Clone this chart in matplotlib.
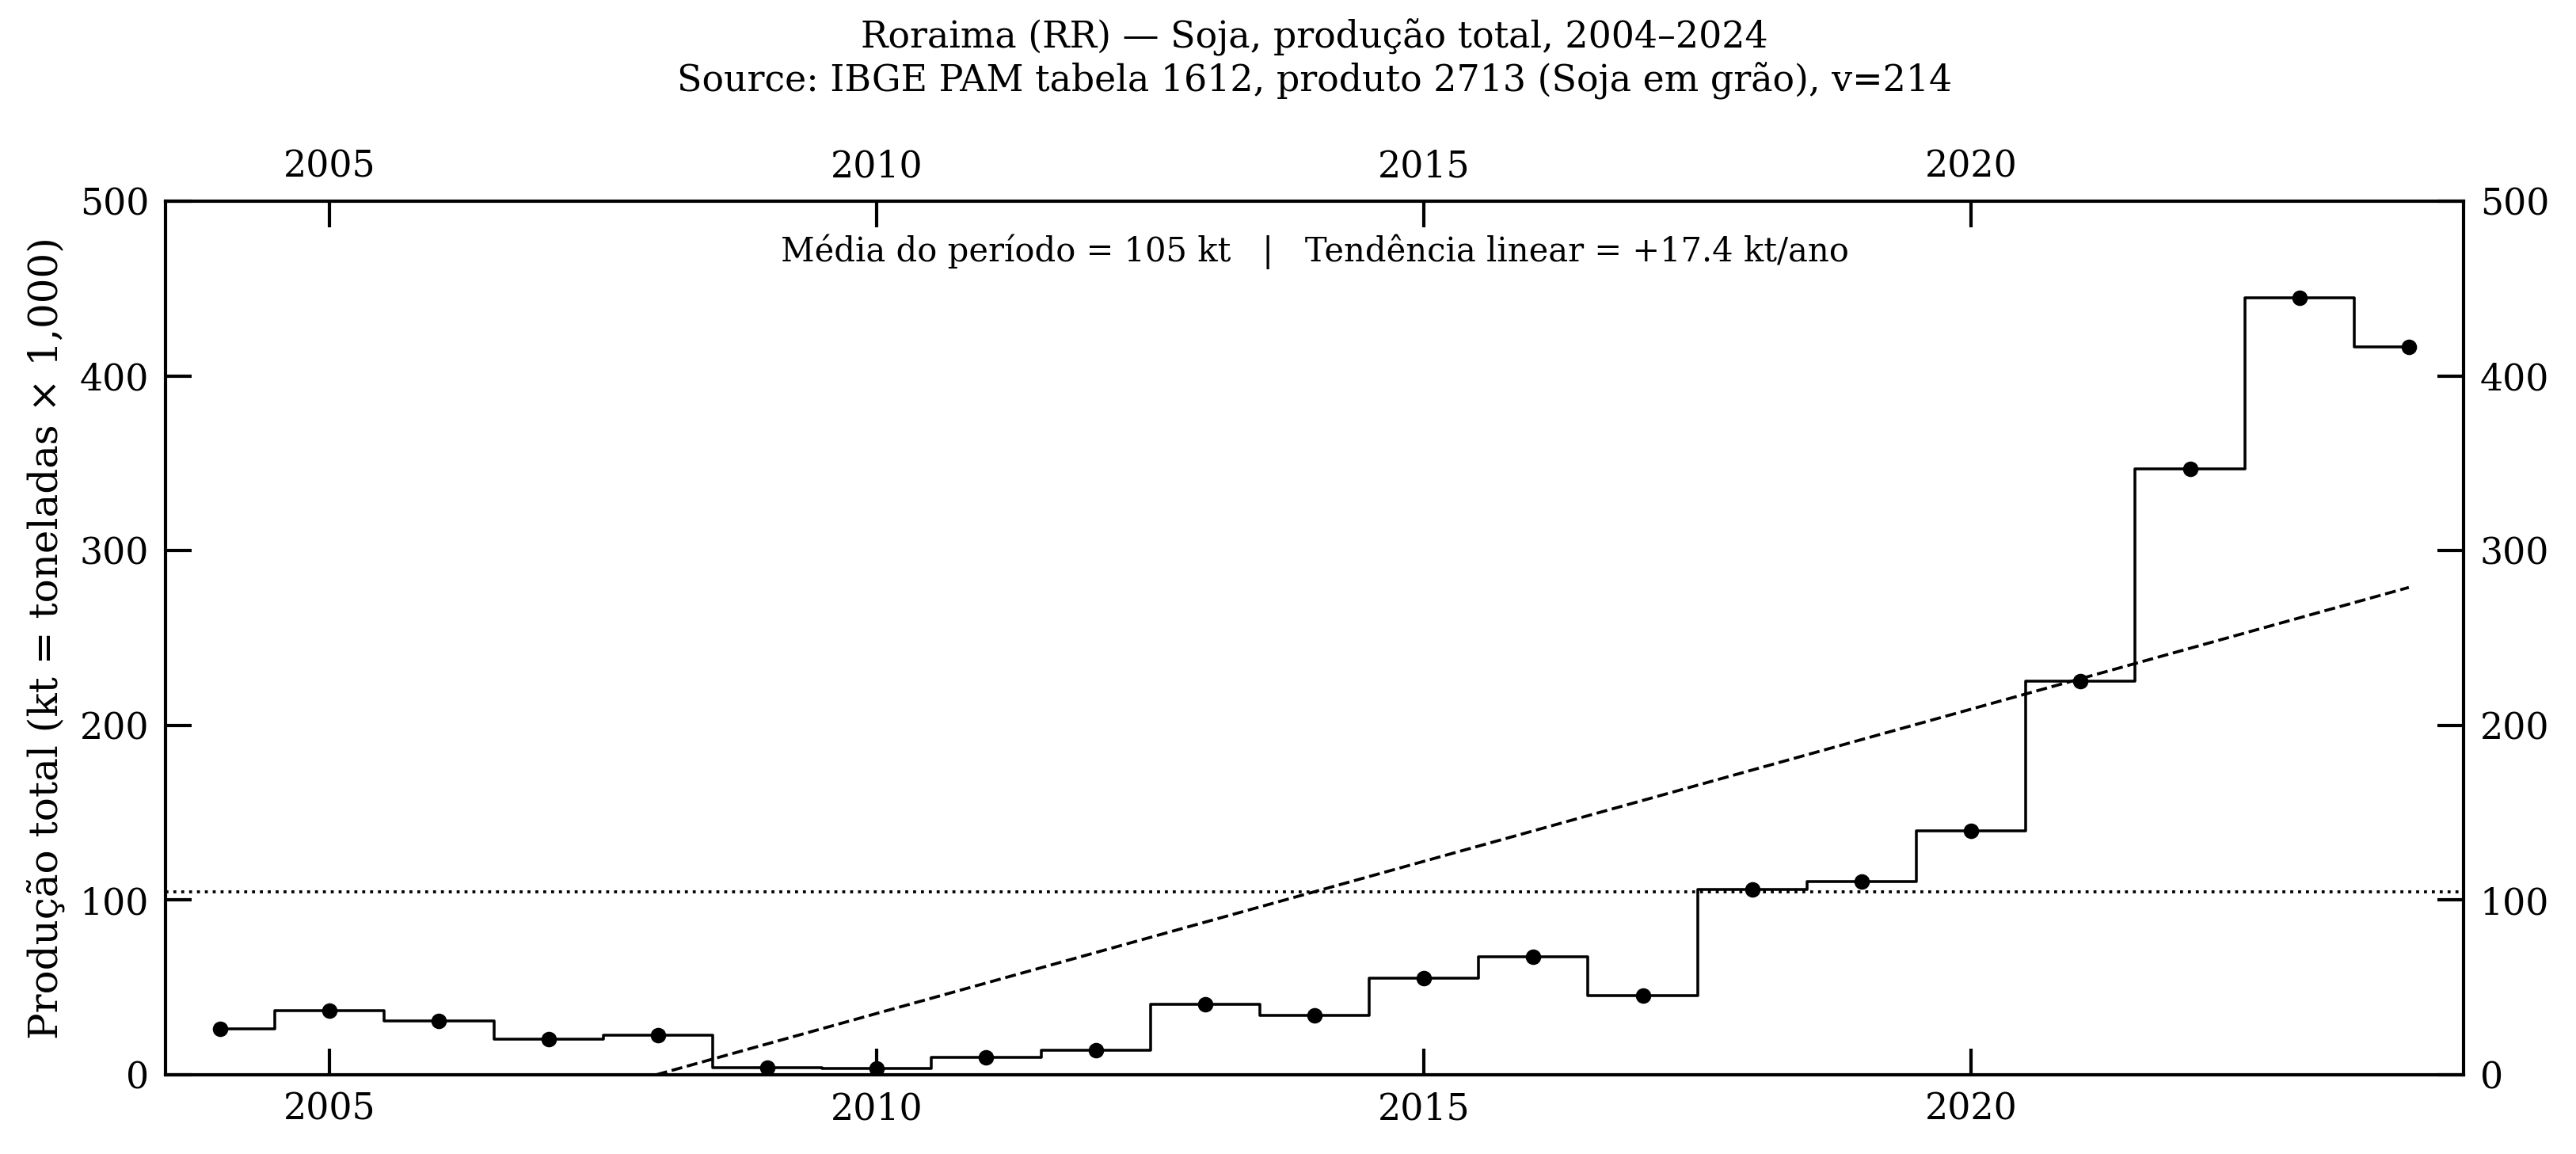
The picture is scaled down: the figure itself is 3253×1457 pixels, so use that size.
import numpy as np
import matplotlib
matplotlib.use("Agg")
import matplotlib.pyplot as plt

years = list(range(2004, 2025))
production_kt = [26.2, 36.7, 30.7, 20.4, 22.8, 4.1, 3.8, 9.8, 14.1, 40.3, 34.0,
                 55.4, 67.4, 45.2, 106.2, 110.5, 139.5, 225.4, 346.6, 444.9, 416.6]
title_lines = ["Roraima (RR) \u2014 Soja, produ\u00e7\u00e3o total, 2004\u20132024",
               "Source: IBGE PAM tabela 1612, produto 2713 (Soja em gr\u00e3o), v=214"]
ylabel = "Produ\u00e7\u00e3o total (kt = toneladas \u00d7 1,000)"
xticks = [2005, 2010, 2015, 2020]
yticks = [0, 100, 200, 300, 400, 500]

plt.rcParams['font.family'] = ['DejaVu Serif']

x = np.array(years, dtype=float)
y = np.array(production_kt)
mean = y.mean()
slope, intercept = np.polyfit(x, y, 1)

fig = plt.figure(figsize=(3253/300, 1457/300), dpi=300)
ax = fig.add_axes([209/3253, 1 - 1357/1457, (3111-209)/3253, (1357-254)/1457])

ax.step(x, y, where='mid', color='black', lw=0.85)
ax.plot(x, y, 'o', color='black', ms=3.7)
ax.axhline(mean, color='black', ls=':', lw=0.9)
ax.plot(x, slope * x + intercept, color='black', ls='--', lw=0.9)

ax.set_xlim(2003.5, 2024.5)
ax.set_ylim(0, 500)
ax.set_xticks(xticks)
ax.set_yticks(yticks)
ax.tick_params(direction='in', length=8, width=1.0, labelsize=11,
               top=True, right=True, labeltop=True, labelright=True, pad=5)
for s in ax.spines.values():
    s.set_linewidth(1.0)
ax.set_ylabel(ylabel, fontsize=12)

ax.text(0.5, 0.942, f"M\u00e9dia do per\u00edodo = {mean:.0f} kt   |   Tend\u00eancia linear = {slope:+.1f} kt/ano",
        transform=ax.transAxes, ha='center', va='center', fontsize=10)

fig.text((209 + 3111) / 2 / 3253, 1 - 75/1457, "\n".join(title_lines),
         ha='center', va='center', fontsize=11)

fig.savefig("out.png", dpi=300)
